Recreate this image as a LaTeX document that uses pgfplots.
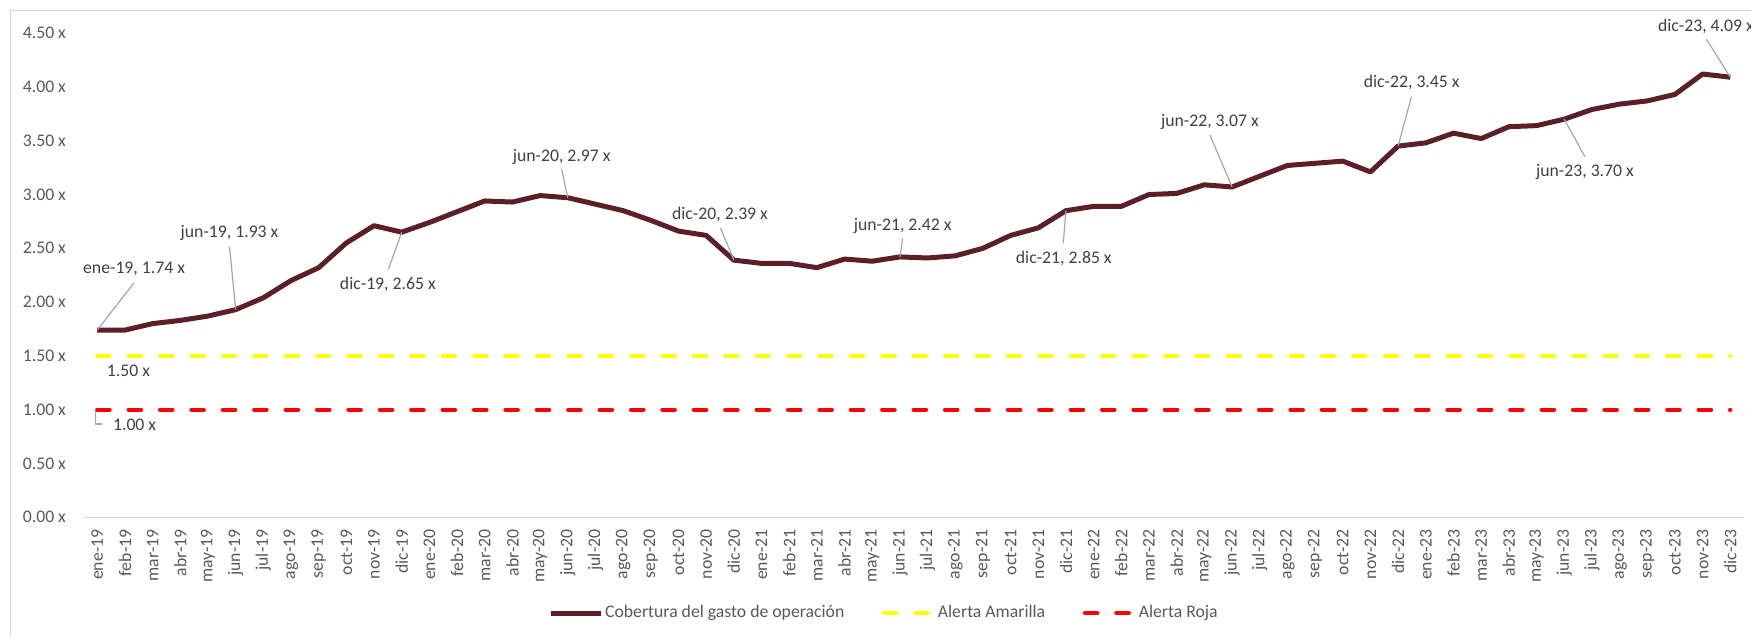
\documentclass[border=0pt]{standalone}
\usepackage{fontspec}
\setmainfont{Carlito}
\usepackage{pgfplots}
\pgfplotsset{compat=1.18}

\definecolor{maroon}{HTML}{5C1F26}
\definecolor{lbl}{HTML}{404040}
\definecolor{tk}{HTML}{595959}
\definecolor{lead}{HTML}{A6A6A6}
\definecolor{frame}{HTML}{D9D9D9}
\definecolor{amar}{HTML}{FFFF00}
\definecolor{roja}{HTML}{FF0000}

\begin{document}
\fontsize{12.6}{15}\selectfont
\begin{tikzpicture}
\path[use as bounding box] (0,0) rectangle (437.75mm,159.25mm);
\draw[frame, line width=0.25mm] (2.675mm,0) -- (2.675mm,156.575mm) -- (437.75mm,156.575mm);
\begin{axis}[
    at={(20.85mm,29.925mm)}, anchor=south west,
    scale only axis, width=415.2mm, height=121.05mm,
    xmin=-0.5, xmax=59.5, ymin=0, ymax=4.5,
    clip=false,
    axis line style={draw=none},
    major tick length=0pt,
    xtick={0,...,59},
    xticklabels={ene-19,feb-19,mar-19,abr-19,may-19,jun-19,jul-19,ago-19,sep-19,oct-19,nov-19,dic-19,
                 ene-20,feb-20,mar-20,abr-20,may-20,jun-20,jul-20,ago-20,sep-20,oct-20,nov-20,dic-20,
                 ene-21,feb-21,mar-21,abr-21,may-21,jun-21,jul-21,ago-21,sep-21,oct-21,nov-21,dic-21,
                 ene-22,feb-22,mar-22,abr-22,may-22,jun-22,jul-22,ago-22,sep-22,oct-22,nov-22,dic-22,
                 ene-23,feb-23,mar-23,abr-23,may-23,jun-23,jul-23,ago-23,sep-23,oct-23,nov-23,dic-23},
    xticklabel style={rotate=90, anchor=east, inner sep=0pt, text=tk},
    xticklabel shift=3mm,
    ytick={0,0.5,1,1.5,2,2.5,3,3.5,4,4.5},
    yticklabel={\pgfmathprintnumber[assume math mode=true,fixed,fixed zerofill,precision=2]{\tick}~x},
    yticklabel style={anchor=east, inner sep=0pt, text=tk},
    yticklabel shift=4.3mm,
    legend style={at={(0.482,-0.198)}, anchor=center, draw=none, fill=none,
        legend columns=3, text=tk, inner sep=0pt,
        nodes={inner sep=1.2pt},
        /tikz/every even column/.append style={column sep=9mm}},
    legend image code/.code={\draw[#1] (0mm,0mm) -- (12.5mm,0mm);},
]
\draw[frame, line width=0.25mm] (axis cs:-0.5,0) -- (axis cs:59.5,0);

\addplot[maroon, line width=1.25mm, line join=round] coordinates {
(0,1.74) (1,1.74) (2,1.80) (3,1.83) (4,1.87) (5,1.93) (6,2.04) (7,2.20) (8,2.32) (9,2.55) (10,2.71) (11,2.65)
(12,2.74) (13,2.84) (14,2.94) (15,2.93) (16,2.99) (17,2.97) (18,2.91) (19,2.85) (20,2.76) (21,2.66) (22,2.62) (23,2.39)
(24,2.36) (25,2.36) (26,2.32) (27,2.40) (28,2.38) (29,2.42) (30,2.41) (31,2.43) (32,2.50) (33,2.62) (34,2.69) (35,2.85)
(36,2.89) (37,2.89) (38,3.00) (39,3.01) (40,3.09) (41,3.07) (42,3.17) (43,3.27) (44,3.29) (45,3.31) (46,3.21) (47,3.45)
(48,3.48) (49,3.57) (50,3.52) (51,3.63) (52,3.64) (53,3.70) (54,3.79) (55,3.84) (56,3.87) (57,3.93) (58,4.12) (59,4.09)
};
\addplot[amar, line width=1.05mm, line cap=round, dash pattern=on 3.1mm off 4.75mm] coordinates {(0,1.5) (59,1.5)};
\addplot[roja, line width=1.05mm, line cap=round, dash pattern=on 3.1mm off 4.75mm] coordinates {(0,1.0) (59,1.0)};
\legend{Cobertura del gasto de operación, Alerta Amarilla, Alerta Roja}

% data labels with leader lines
\begin{scope}[lead, line width=0.3mm]
\draw (axis cs:1.33,2.18) -- (axis cs:0,1.74);
\draw (axis cs:4.78,2.515) -- (axis cs:5,1.93);
\draw (axis cs:10.52,2.305) -- (axis cs:11,2.65);
\draw (axis cs:16.78,3.234) -- (axis cs:17,2.97);
\draw (axis cs:22.52,2.686) -- (axis cs:23,2.39);
\draw (axis cs:29.1,2.593) -- (axis cs:29,2.42);
\draw (axis cs:34.9,2.546) -- (axis cs:35,2.85);
\draw (axis cs:40.2,3.553) -- (axis cs:41,3.07);
\draw (axis cs:47.48,3.909) -- (axis cs:47,3.45);
\draw (axis cs:53.75,3.351) -- (axis cs:53,3.70);
\draw (axis cs:58.14,4.442) -- (axis cs:59,4.09);
\draw (axis cs:-0.05,0.99) -- (axis cs:-0.05,0.867) -- (axis cs:0.17,0.867);
\end{scope}
\begin{scope}[every node/.style={text=lbl, inner sep=0pt}]
\node at (axis cs:1.33,2.31) {ene-19, 1.74 x};
\node at (axis cs:4.78,2.645) {jun-19, 1.93 x};
\node at (axis cs:10.5,2.165) {dic-19, 2.65 x};
\node at (axis cs:16.78,3.35) {jun-20, 2.97 x};
\node at (axis cs:22.5,2.81) {dic-20, 2.39 x};
\node at (axis cs:29.1,2.707) {jun-21, 2.42 x};
\node at (axis cs:34.92,2.407) {dic-21, 2.85 x};
\node at (axis cs:40.2,3.677) {jun-22, 3.07 x};
\node at (axis cs:47.49,4.039) {dic-22, 3.45 x};
\node at (axis cs:53.75,3.212) {jun-23, 3.70 x};
\node at (axis cs:58.12,4.566) {dic-23, 4.09 x};
\node at (axis cs:1.13,1.362) {1.50 x};
\node at (axis cs:1.35,0.858) {1.00 x};
\end{scope}
\end{axis}
\end{tikzpicture}
\end{document}
